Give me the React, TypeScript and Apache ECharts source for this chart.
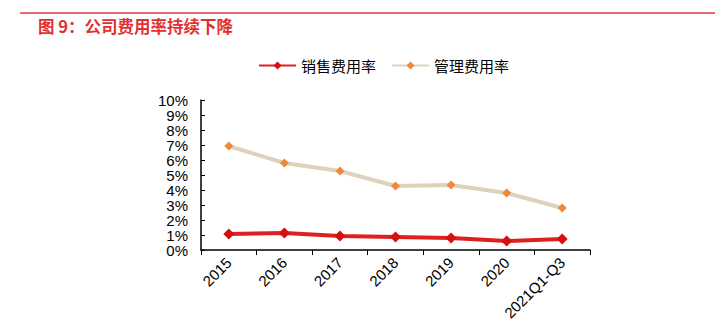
import React, { useEffect, useRef } from "react";
import * as echarts from "echarts";

const categories = ["2015", "2016", "2017", "2018", "2019", "2020", "2021Q1-Q3"];
const salesRate = [1.07, 1.13, 0.93, 0.87, 0.8, 0.6, 0.73];
const mgmtRate = [6.93, 5.8, 5.27, 4.27, 4.33, 3.8, 2.8];
const yEvenTicks = [0, 2, 4, 6, 8, 10];
const yOddTicks = [1, 3, 5, 7, 9];

export default function App() {
  const ref = useRef<HTMLDivElement>(null);
  useEffect(() => {
    if (!ref.current) return;
    const chart = echarts.init(ref.current, undefined, { renderer: "svg" });
    const font = "'Liberation Sans', Arial, sans-serif";
    const labelStyle = {
      color: "#000",
      fontSize: 15,
      lineHeight: 14,
      fontFamily: font,
      margin: 13,
      showMinLabel: true,
      showMaxLabel: true,
    };
    chart.setOption({
      animation: false,
      graphic: [
        {
          type: "line",
          shape: { x1: 20, y1: 13, x2: 715, y2: 13 },
          style: { stroke: "#e03a3a", lineWidth: 1.5 },
        },
        {
          type: "text",
          left: 38,
          top: 18,
          style: {
            text: "图 9：公司费用率持续下降",
            fill: "#e03030",
            font: "bold 16.5px 'Noto Sans CJK SC', sans-serif",
          },
        },
      ],
      legend: {
        top: 58,
        left: 258,
        padding: 0,
        itemGap: 15,
        itemWidth: 37,
        itemHeight: 10,
        textStyle: { fontSize: 15, color: "#000", fontFamily: "'Noto Sans CJK SC', sans-serif" },
        data: ["销售费用率", "管理费用率"],
      },
      grid: [
        { left: 201, right: 125, top: 100, bottom: 75, containLabel: false },
        { left: 201, right: 125, top: 115, bottom: 90, containLabel: false },
      ],
      xAxis: [
        {
          type: "category",
          data: categories,
          boundaryGap: true,
          axisLine: { lineStyle: { color: "#000", width: 1.5 } },
          axisTick: { show: true, alignWithLabel: false, length: 5, lineStyle: { color: "#000" } },
          axisLabel: {
            rotate: 45,
            color: "#000",
            fontSize: 15,
            fontFamily: font,
            margin: 10,
            interval: 0,
          },
        },
        { type: "category", gridIndex: 1, data: categories, show: false },
      ],
      yAxis: [
        {
          type: "value",
          position: "left",
          min: 0,
          max: 10,
          interval: 1,
          splitLine: { show: false },
          axisLine: { show: true, lineStyle: { color: "#000", width: 1.5 } },
          axisTick: { show: true, inside: true, length: 4, lineStyle: { color: "#000" } },
          axisLabel: { show: false },
        },
        {
          type: "value",
          position: "left",
          offset: 0,
          min: 0,
          max: 10,
          interval: 2,
          splitLine: { show: false },
          axisLine: { show: false },
          axisTick: { show: false },
          axisLabel: {
            ...labelStyle,
            formatter: (v: number) => (yEvenTicks.includes(v) ? v + "%" : ""),
          },
        },
        {
          type: "value",
          position: "left",
          gridIndex: 1,
          min: 1,
          max: 9,
          interval: 2,
          splitLine: { show: false },
          axisLine: { show: false },
          axisTick: { show: false },
          axisLabel: {
            ...labelStyle,
            formatter: (v: number) => (yOddTicks.includes(v) ? v + "%" : ""),
          },
        },
      ],
      series: [
        {
          name: "销售费用率",
          type: "line",
          data: salesRate,
          symbol: "diamond",
          symbolSize: 11,
          lineStyle: { color: "#e02020", width: 4 },
          itemStyle: { color: "#d41010" },
        },
        {
          name: "管理费用率",
          type: "line",
          data: mgmtRate,
          symbol: "diamond",
          symbolSize: 9,
          lineStyle: { color: "#ddd3bd", width: 4 },
          itemStyle: { color: "#f0873a" },
        },
      ],
    });
    return () => chart.dispose();
  }, []);
  return <div ref={ref} style={{ width: 715, height: 325, position: "absolute", left: 0, top: 0 }} />;
}
